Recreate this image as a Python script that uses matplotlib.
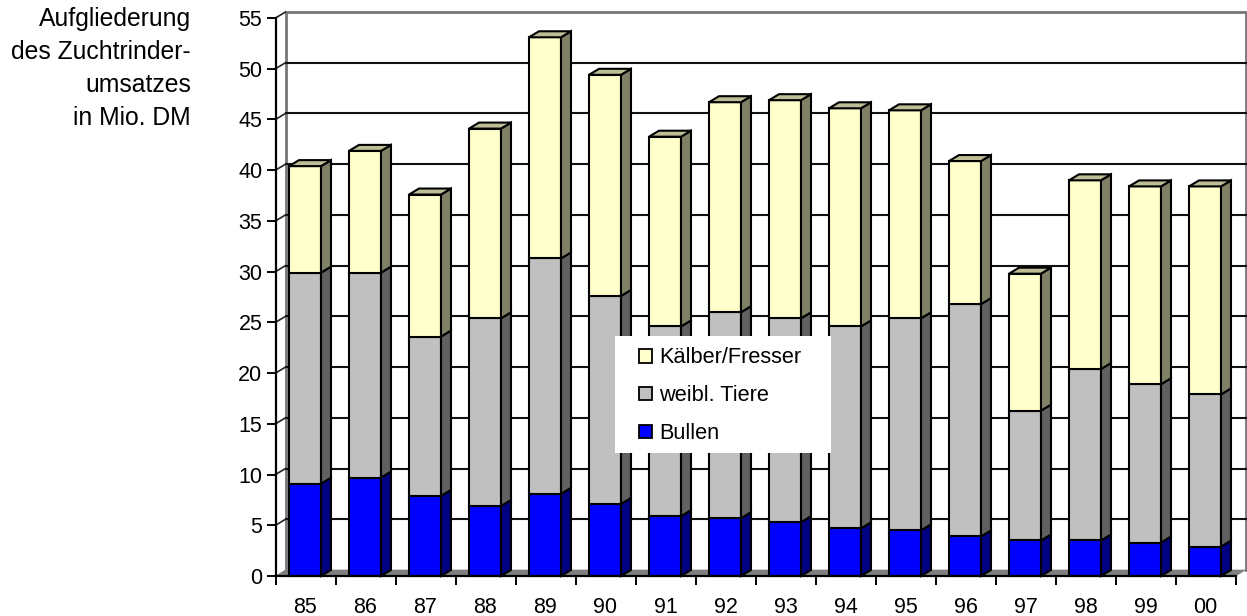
import numpy as np
import matplotlib
matplotlib.use("Agg")
import matplotlib.pyplot as plt
from matplotlib.patches import Patch, Rectangle

plt.rcParams['font.family'] = ['Liberation Sans', 'DejaVu Sans']

# values
years = ["85", "86", "87", "88", "89", "90", "91", "92", "93", "94", "95", "96", "97", "98", "99", "00"]
bullen = [9.1, 9.7, 7.9, 6.9, 8.1, 7.1, 5.9, 5.7, 5.3, 4.7, 4.5, 3.9, 3.5, 3.5, 3.3, 2.9]
weibl = [20.8, 20.2, 15.7, 18.5, 23.2, 20.5, 18.7, 20.3, 20.1, 19.9, 20.9, 22.9, 12.8, 16.9, 15.6, 15.0]
kaelber = [10.5, 12.0, 14.0, 18.7, 21.8, 21.8, 18.7, 20.7, 21.5, 21.5, 20.5, 14.1, 13.5, 18.6, 19.5, 20.5]

W, H = 1247, 616
fig = plt.figure(figsize=(W / 100, H / 100), dpi=100)
ax = fig.add_axes([275.5 / W, (H - 576) / H, 960 / W, 558 / H])
ax.set_xlim(0, 16)
ax.set_ylim(0, 55)

# depth of the fake 3d look, in data units
dx = 10 / 60
dy = 6 / (558 / 55)
bar_w = 32 / 60
bar_off = 13.5 / 60
edge = dict(edgecolor="black", linewidth=1.5, clip_on=False)

# back wall, floor and grid
yt = np.arange(0, 60, 5)
ax.plot([dx, dx, 16 + dx, 16 + dx], [dy, 55 + dy, 55 + dy, dy], color="#777777", lw=2, clip_on=False, zorder=1)
ax.fill([0, 16, 16 + dx, dx], [0, 0, dy, dy], facecolor="#808080", edgecolor="#808080", lw=0.5, clip_on=False, zorder=1)
for v in yt[1:-1]:
    ax.plot([dx, 16 + dx], [v + dy, v + dy], color="#111111", lw=1.5, clip_on=False, zorder=1)
for v in yt[1:]:
    ax.plot([0, dx], [v, v + dy], color="#222222", lw=1.2, clip_on=False, zorder=1)

series = [
    (bullen, "#0000FF", "#000080", "#000080"),
    (weibl, "#C0C0C0", "#606060", "#606060"),
    (kaelber, "#FFFFCC", "#808066", "#BDBD96"),
]
bottoms = np.zeros(len(years))
for vals, front, side, top in series:
    for i, v in enumerate(vals):
        x0 = i + bar_off
        x1 = x0 + bar_w
        b = bottoms[i]
        ax.bar(x0, v, bar_w, bottom=b, align="edge", facecolor=front, zorder=3, **edge)
        ax.fill([x1, x1 + dx, x1 + dx, x1], [b, b + dy, b + v + dy, b + v], facecolor=side, zorder=3, **edge)
        if top is not series[-1][3]:
            continue
        ax.fill([x0, x1, x1 + dx, x0 + dx], [b + v, b + v, b + v + dy, b + v + dy], facecolor=top, zorder=3, **edge)
    bottoms += np.array(vals)

# axes
for s in ["top", "right"]:
    ax.spines[s].set_visible(False)
for s in ["left", "bottom"]:
    ax.spines[s].set_linewidth(1.6)
    ax.spines[s].set_zorder(4)
ax.set_yticks(yt)
ax.tick_params(axis="y", length=6.5, width=1.4, labelsize=15.5, pad=3)
ax.set_xticks(np.arange(0, 17))
ax.set_xticklabels([])
ax.tick_params(axis="x", which="major", length=6.5, width=1.4)
ax.set_xticks(np.arange(16) + 0.5, minor=True)
ax.set_xticklabels(years, minor=True)
ax.tick_params(axis="x", which="minor", length=0, labelsize=15.5, pad=15)

# white box behind the legend
ax.add_patch(Rectangle((615 / W, (H - 453) / H), 216 / W, 117 / H, transform=fig.transFigure,
                       facecolor="white", edgecolor="none", clip_on=False, zorder=5))
handles = [
    Patch(facecolor="#FFFFCC", edgecolor="black", lw=1.3, label="Kälber/Fresser"),
    Patch(facecolor="#C0C0C0", edgecolor="black", lw=1.3, label="weibl. Tiere"),
    Patch(facecolor="#0000FF", edgecolor="black", lw=1.3, label="Bullen"),
]
leg = ax.legend(handles=handles, loc="lower left", bbox_to_anchor=(639 / W, (H - 444) / H),
                bbox_transform=fig.transFigure, fontsize=15.7, frameon=False, borderaxespad=0, borderpad=0,
                handlelength=0.58, handleheight=0.58, handletextpad=0.36, labelspacing=0.77)
leg.set_zorder(6)

fig.text(191 / W, (H - 68.5) / H, "Aufgliederung\ndes Zuchtrinder-\numsatzes\nin Mio. DM", ha="right", va="center",
         fontsize=17.8, linespacing=1.46, color="black")

fig.savefig("out.png", dpi=100)
